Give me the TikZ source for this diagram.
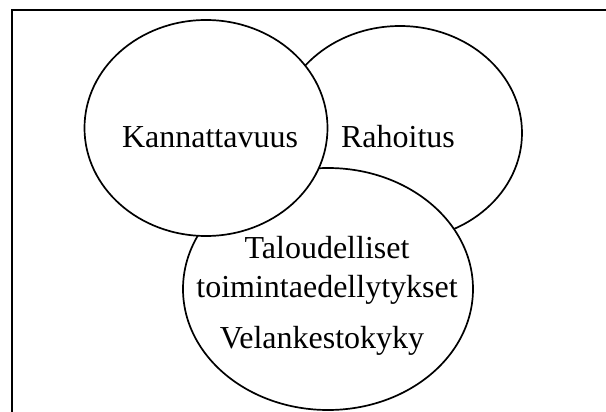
\documentclass[tikz,border=0pt]{standalone}
\usepackage{fontspec}
\setmainfont{Liberation Serif}
\usetikzlibrary{shapes.geometric,positioning}

\begin{document}
\begin{tikzpicture}[
    x=1pt, y=-1pt,
    area/.style={
        ellipse,
        draw=black,
        line width=1.7pt,
        fill=white,
        inner sep=0pt
    },
    lbl/.style={
        font=\fontsize{32}{39}\selectfont,
        align=center,
        inner sep=0pt,
        anchor=base
    },
    frame/.style={line width=1.7pt},
]
\useasboundingbox (0,0) rectangle (606,412);

% frame
\draw[frame] (12,412) -- (12,10) -- (606,10);

% circles (right first, left last)
\node[area, minimum width=244pt, minimum height=214pt] (rahoitus) at (400,133) {};
\node[area, minimum width=290pt, minimum height=242pt] (talous) at (328,289) {};
\node[area, minimum width=243pt, minimum height=216pt] (kannatt) at (206,128) {};

% texts
\node[lbl] (kannattT) at (210,147) {Kannattavuus};
\node[lbl] (rahoitusT) at (398,147) {Rahoitus};
\node[lbl] (talousT) at (327,297) {Taloudelliset\\toimintaedellytykset};
\node[lbl] (velkaT) at (322,348) {Velankestokyky};

\end{tikzpicture}
\end{document}
